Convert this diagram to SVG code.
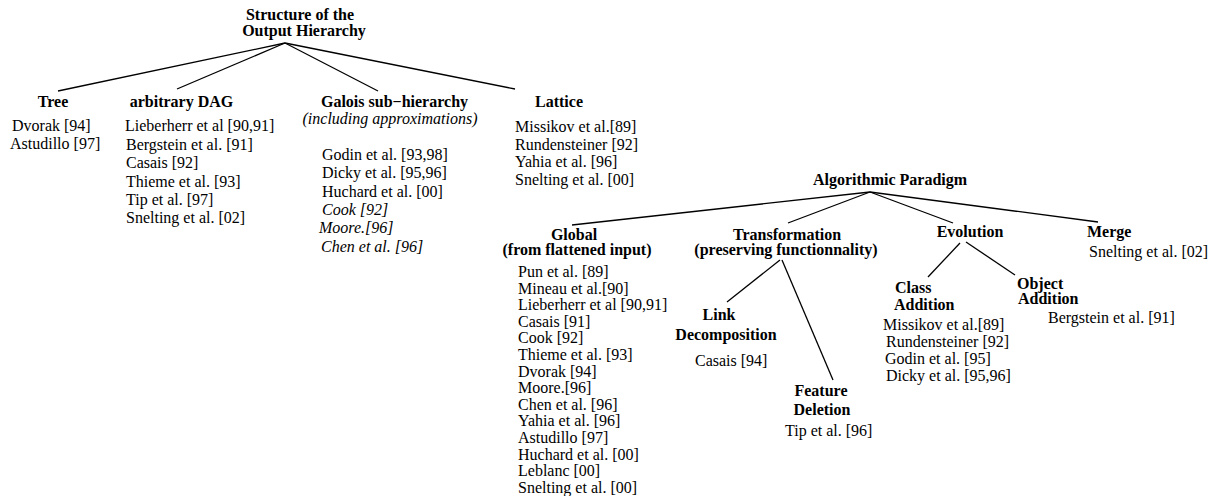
<svg xmlns="http://www.w3.org/2000/svg" width="1209" height="496" viewBox="0 0 1209 496">
<style>
text{font-family:"Liberation Serif","Times New Roman",serif;font-size:16px;fill:#000}
.t{font-weight:bold;text-anchor:middle}
.tl{font-weight:bold}
.i{font-style:italic}
.c{text-anchor:middle;font-style:italic}
line{stroke:#000;stroke-width:1.3}
</style>
<rect width="1209" height="496" fill="#fff"/>
<g id="connectors">
<line x1="285" y1="43" x2="58" y2="91"/>
<line x1="285" y1="43" x2="177" y2="89"/>
<line x1="285" y1="43" x2="378" y2="91"/>
<line x1="285" y1="43" x2="515" y2="89"/>
<line x1="870" y1="192" x2="572" y2="225"/>
<line x1="870" y1="192" x2="788" y2="223"/>
<line x1="870" y1="192" x2="953" y2="223"/>
<line x1="870" y1="192" x2="1098" y2="222"/>
<line x1="780" y1="260" x2="727" y2="302"/>
<line x1="782" y1="260" x2="833" y2="380"/>
<line x1="960" y1="243" x2="928" y2="277"/>
<line x1="966" y1="242" x2="1015" y2="275"/>
</g>
<g id="root">
<text class="t" x="300" y="20">Structure of the</text>
<text class="t" x="304" y="35.5">Output Hierarchy</text>
</g>
<g id="tree">
<text class="t" x="53" y="107">Tree</text>
<text x="12" y="131">Dvorak [94]</text>
<text x="10" y="149">Astudillo [97]</text>
</g>
<g id="dag">
<text class="t" x="181.5" y="107">arbitrary DAG</text>
<text x="125" y="131">Lieberherr et al [90,91]</text>
<text x="126" y="149.5">Bergstein et al. [91]</text>
<text x="126" y="168">Casais [92]</text>
<text x="126" y="186.5">Thieme et al. [93]</text>
<text x="126" y="205">Tip et al. [97]</text>
<text x="126" y="223">Snelting et al. [02]</text>
</g>
<g id="galois">
<text class="t" x="394.5" y="107">Galois sub−hierarchy</text>
<text class="c" x="390" y="124">(including approximations)</text>
<text x="322" y="160">Godin et al. [93,98]</text>
<text x="322" y="178">Dicky et al. [95,96]</text>
<text x="322" y="197">Huchard et al. [00]</text>
<text class="i" x="322" y="215">Cook [92]</text>
<text class="i" x="319" y="233">Moore.[96]</text>
<text class="i" x="321" y="252">Chen et al. [96]</text>
</g>
<g id="lattice">
<text class="t" x="559" y="107">Lattice</text>
<text x="515" y="132">Missikov et al.[89]</text>
<text x="515" y="150">Rundensteiner [92]</text>
<text x="515" y="167">Yahia et al. [96]</text>
<text x="515" y="185">Snelting et al. [00]</text>
</g>
<g id="algorithmic">
<text class="t" x="890" y="185">Algorithmic Paradigm</text>
</g>
<g id="global">
<text class="t" x="574" y="239.5">Global</text>
<text class="t" x="577" y="255">(from flattened input)</text>
<text x="518" y="277">Pun et al. [89]</text>
<text x="518" y="293.6">Mineau et al.[90]</text>
<text x="518" y="310.2">Lieberherr et al [90,91]</text>
<text x="518" y="326.8">Casais [91]</text>
<text x="518" y="343.4">Cook [92]</text>
<text x="518" y="360">Thieme et al. [93]</text>
<text x="518" y="376.6">Dvorak [94]</text>
<text x="518" y="393.2">Moore.[96]</text>
<text x="518" y="409.8">Chen et al. [96]</text>
<text x="518" y="426.4">Yahia et al. [96]</text>
<text x="518" y="443">Astudillo [97]</text>
<text x="518" y="459.6">Huchard et al. [00]</text>
<text x="518" y="476.2">Leblanc [00]</text>
<text x="518" y="492.8">Snelting et al. [00]</text>
</g>
<g id="transformation">
<text class="t" x="787" y="239.5">Transformation</text>
<text class="t" x="786" y="255">(preserving functionnality)</text>
</g>
<g id="link">
<text class="t" x="719" y="320">Link</text>
<text class="t" x="726" y="340">Decomposition</text>
<text x="695" y="366">Casais [94]</text>
</g>
<g id="feature">
<text class="t" x="821" y="396">Feature</text>
<text class="t" x="822" y="415">Deletion</text>
<text x="785" y="436">Tip et al. [96]</text>
</g>
<g id="evolution">
<text class="t" x="970" y="237">Evolution</text>
</g>
<g id="class">
<text class="tl" x="895" y="293">Class</text>
<text class="tl" x="894" y="310">Addition</text>
<text x="883" y="330">Missikov et al.[89]</text>
<text x="886" y="347">Rundensteiner [92]</text>
<text x="885" y="364">Godin et al. [95]</text>
<text x="886" y="381">Dicky et al. [95,96]</text>
</g>
<g id="object">
<text class="tl" x="1017" y="288.5">Object</text>
<text class="tl" x="1018" y="303.5">Addition</text>
<text x="1048" y="323">Bergstein et al. [91]</text>
</g>
<g id="merge">
<text class="tl" x="1087" y="237">Merge</text>
<text x="1089" y="257">Snelting et al. [02]</text>
</g>
</svg>
